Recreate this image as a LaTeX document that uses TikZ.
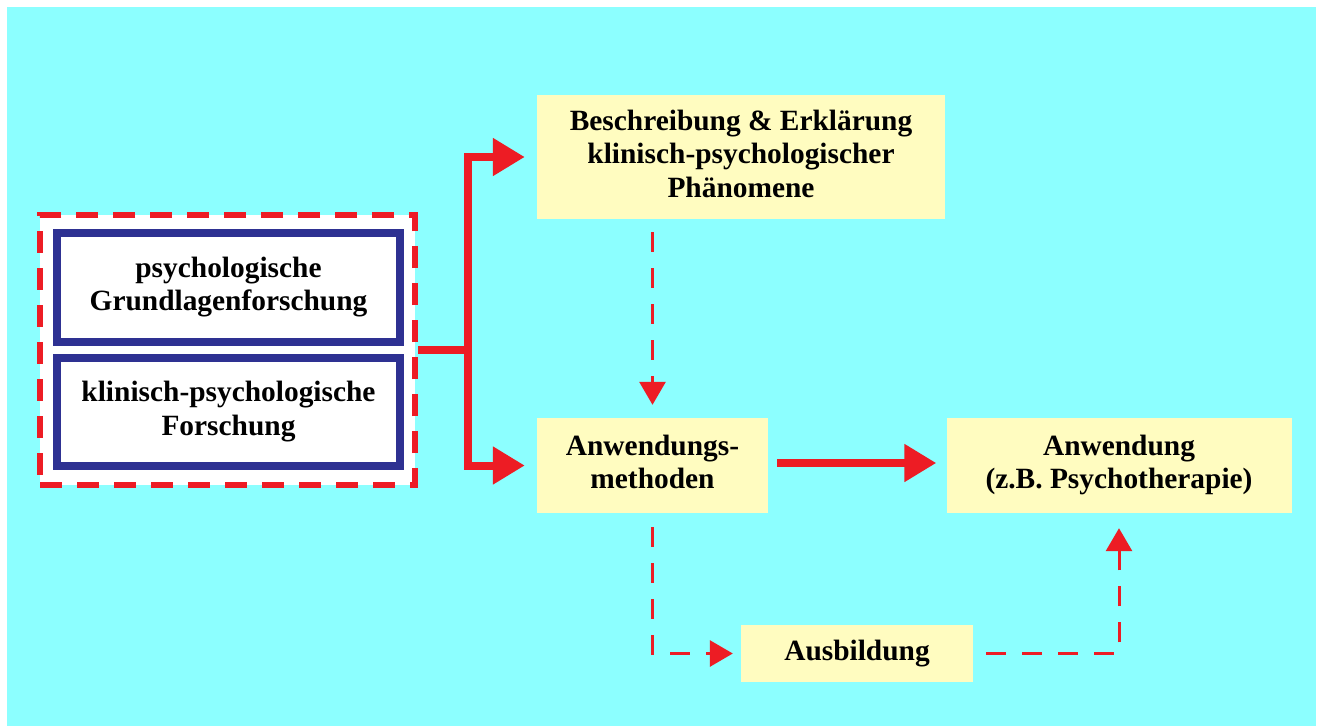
\documentclass[tikz,border=0pt]{standalone}
\usepackage{fontspec}
\setmainfont{Liberation Serif}
\usetikzlibrary{arrows.meta}
\definecolor{bgcyan}{RGB}{140,255,255}
\definecolor{boxyellow}{RGB}{255,252,192}
\definecolor{flowred}{RGB}{237,28,36}
\definecolor{frameblue}{RGB}{46,49,146}
% centred lines of a label, set a little above the middle of its box
\newcommand\boxlines[1]{\raisebox{5pt}{\begin{tabular}{@{}c@{}}#1\end{tabular}}}
\tikzset{
  lbl/.style={font=\fontsize{29.4}{33.5}\selectfont\bfseries, inner sep=0pt},
  yellowbox/.style={lbl, fill=boxyellow, draw=none},
  bluebox/.style={lbl, fill=white, draw=frameblue, line width=8pt},
  groupbox/.style={fill=white, draw=flowred, line width=6pt, dash pattern=on 22pt off 15pt, inner sep=0pt},
  mainflow/.style={draw=flowred, line width=8pt, -{Triangle[length=32pt,width=36pt]}},
  sideflow/.style={draw=flowred, line width=3pt, dash pattern=on 20pt off 16pt, -{Triangle[length=23pt,width=26pt]}},
}
\begin{document}
\begin{tikzpicture}[x=1pt,y=-1pt]
  % page and backdrop
  \useasboundingbox (0,0) rectangle (1322,726);
  \fill[white] (0,0) rectangle (1322,726);
  \fill[bgcyan] (7,7) rectangle (1316,726);

  % research group on the left
  \node[groupbox, minimum width=375pt, minimum height=270pt] (grp) at (227.5,350) {};
  \node[bluebox, minimum width=343pt, minimum height=109pt] (gl) at (228.5,287.5)
    {\boxlines{psychologische\\Grundlagenforschung}};
  \node[bluebox, minimum width=343pt, minimum height=108pt] (kp) at (228.5,412)
    {\boxlines{klinisch-psychologische\\Forschung}};

  % yellow stages
  \node[yellowbox, minimum width=408pt, minimum height=124pt] (besch) at (741,157)
    {\boxlines{Beschreibung \& Erklärung\\klinisch-psychologischer\\Phänomene}};
  \node[yellowbox, minimum width=231pt, minimum height=95pt] (meth) at (652.5,465.5)
    {\boxlines{Anwendungs-\\methoden}};
  \node[yellowbox, minimum width=345pt, minimum height=95pt] (anw) at (1119,465.5)
    {\boxlines{Anwendung\\(z.B. Psychotherapie)}};
  \node[yellowbox, minimum width=232pt, minimum height=57pt] (ausb) at (857,653.5)
    {\boxlines{Ausbildung}};

  % solid branching connector
  \coordinate (split) at (468,350);
  \draw[flowred, line width=8pt] (grp.east) -- ([xshift=4pt]split);
  \draw[mainflow, shorten >=12pt] ([yshift=4pt]split) |- (besch.west);
  \draw[mainflow, shorten >=12pt] ([yshift=-4pt]split) |- (meth.west);
  \draw[mainflow, shorten <=9pt, shorten >=10pt] ([yshift=2.5pt]meth.east) -- ([yshift=2.5pt]anw.west);

  % dashed connectors
  \draw[sideflow, shorten <=13pt, shorten >=13pt] (meth.north |- besch.south) -- (meth.north);
  \draw[sideflow, shorten <=14pt, shorten >=8pt] (meth.south) |- (ausb.west);
  \draw[sideflow, shorten <=13pt, shorten >=15pt] (ausb.east) -| (anw.south);
\end{tikzpicture}
\end{document}
